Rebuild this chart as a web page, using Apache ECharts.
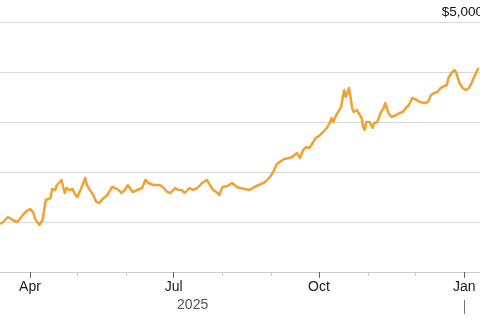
<!DOCTYPE html>
<html>
<head>
<meta charset="utf-8">
<script src="https://cdn.jsdelivr.net/npm/echarts@6/dist/echarts.min.js"></script>
<style>
html,body{margin:0;padding:0;background:#fff;}
#c{width:480px;height:320px;}
</style>
</head>
<body>
<div id="c"></div>
<script>
// Gold price (USD/oz)
var dates = ['2025-03-13','2025-03-15','2025-03-18','2025-03-21','2025-03-24','2025-03-26','2025-03-28','2025-03-30',
'2025-04-01','2025-04-03','2025-04-04','2025-04-05','2025-04-07','2025-04-09','2025-04-11','2025-04-12','2025-04-14','2025-04-15','2025-04-17','2025-04-18','2025-04-21','2025-04-22','2025-04-23','2025-04-24','2025-04-26','2025-04-28','2025-04-29',
'2025-05-01','2025-05-03','2025-05-04','2025-05-06','2025-05-07','2025-05-09','2025-05-11','2025-05-13','2025-05-14','2025-05-15','2025-05-17','2025-05-20','2025-05-23','2025-05-25','2025-05-27','2025-05-29','2025-05-31',
'2025-06-02','2025-06-03','2025-06-05','2025-06-08','2025-06-11','2025-06-13','2025-06-15','2025-06-18','2025-06-22','2025-06-24','2025-06-27','2025-06-29',
'2025-07-02','2025-07-04','2025-07-06','2025-07-08','2025-07-11','2025-07-13','2025-07-16','2025-07-17','2025-07-19','2025-07-22','2025-07-24','2025-07-26','2025-07-28','2025-07-30','2025-07-31',
'2025-08-01','2025-08-04','2025-08-05','2025-08-07','2025-08-10','2025-08-12','2025-08-15','2025-08-18','2025-08-19','2025-08-21','2025-08-24','2025-08-28','2025-08-31',
'2025-09-02','2025-09-04','2025-09-06','2025-09-09','2025-09-12','2025-09-14','2025-09-17','2025-09-19','2025-09-21','2025-09-23','2025-09-25','2025-09-27','2025-09-29',
'2025-10-01','2025-10-03','2025-10-06','2025-10-08','2025-10-09','2025-10-10','2025-10-12','2025-10-14','2025-10-15','2025-10-16','2025-10-17','2025-10-18','2025-10-19','2025-10-20','2025-10-21','2025-10-22','2025-10-23','2025-10-25','2025-10-28','2025-10-29','2025-10-30','2025-10-31',
'2025-11-02','2025-11-03','2025-11-04','2025-11-05','2025-11-07','2025-11-09','2025-11-11','2025-11-12','2025-11-13','2025-11-14','2025-11-16','2025-11-19','2025-11-21','2025-11-23','2025-11-25','2025-11-27','2025-11-29',
'2025-12-02','2025-12-04','2025-12-07','2025-12-09','2025-12-11','2025-12-13','2025-12-15','2025-12-17','2025-12-21','2025-12-22','2025-12-24','2025-12-26','2025-12-27','2025-12-29','2025-12-31',
'2026-01-02','2026-01-04','2026-01-06','2026-01-07','2026-01-08','2026-01-10'];
var prices = [2980,3000,3050,3020,3000,3040,3080,3110,
3130,3100,3040,3010,2970,3020,3220,3230,3240,3330,3320,3370,3420,3350,3290,3340,3320,3330,3290,
3250,3320,3360,3440,3370,3320,3270,3200,3220,3190,3230,3270,3350,3340,3320,3290,3320,
3370,3350,3300,3320,3340,3420,3390,3370,3370,3350,3300,3290,
3340,3320,3320,3290,3340,3320,3340,3350,3390,3420,3370,3320,3300,3270,3320,
3350,3360,3370,3390,3350,3340,3330,3320,3310,3350,3370,3400,3450,
3500,3570,3600,3630,3640,3650,3690,3640,3720,3750,3740,3790,3840,
3860,3890,3940,4000,4040,4000,4070,4120,4150,4240,4320,4250,4290,4340,4250,4140,4100,4120,4040,3950,3920,4000,
4000,3990,3940,3990,4000,4090,4140,4190,4140,4090,4050,4070,4090,4100,4140,4170,4240,
4220,4200,4190,4200,4270,4290,4300,4340,4370,4440,4490,4520,4490,4390,4340,
4320,4340,4400,4440,4420,4540];

var quarterTicks = ['2025-04-01','2025-07-01','2025-10-01','2026-01-01'];
var monthTicks = ['2025-05-01','2025-06-01','2025-08-01','2025-09-01','2025-11-01','2025-12-01'];
var yearLabelAt = ['2025-07-13'];
var yearBreak = ['2026-01-01'];
var monthNames = ['Jan','Feb','Mar','Apr','May','Jun','Jul','Aug','Sep','Oct','Nov','Dec'];

var xMin = '2025-03-13', xMax = '2026-01-11';
var FONT = '"Liberation Sans", Arial, Helvetica, sans-serif';

function ts(d){ return new Date(d + 'T00:00:00').getTime(); }

var chart = echarts.init(document.getElementById('c'), null, {renderer:'canvas'});
var seriesData = dates.map(function(d,i){ return [ts(d), prices[i]]; });

function baseX(extra){
  var o = { type: 'value', min: ts(xMin), max: ts(xMax), position: 'bottom', scale: true,
    axisLine: { show: false }, splitLine: { show: false } };
  for (var k in extra) o[k] = extra[k];
  return o;
}

chart.setOption({
  animation: false,
  backgroundColor: '#fff',
  grid: { left: 0, right: 0, top: 22, height: 250, containLabel: false, outerBoundsMode: 'none' },
  xAxis: [
    baseX({
      axisLine: { show: true, onZero: false, lineStyle: { color: '#cfcfcf', width: 1 } },
      axisTick: { show: true, customValues: quarterTicks.map(ts), length: 6, lineStyle: { color: '#666' } },
      axisLabel: { show: true, customValues: quarterTicks.map(ts), margin: 8, color: '#1a1a1a', fontSize: 14, fontFamily: FONT,
        formatter: function(v){ return monthNames[new Date(v).getMonth()]; } }
    }),
    baseX({
      axisTick: { show: true, customValues: monthTicks.map(ts), length: 4, lineStyle: { color: '#c8c8c8' } },
      axisLabel: { show: true, customValues: yearLabelAt.map(ts), margin: 26, color: '#555', fontSize: 14, fontFamily: FONT,
        formatter: function(v){ return String(new Date(v).getFullYear()); } }
    }),
    baseX({
      offset: 28,
      axisTick: { show: true, customValues: yearBreak.map(ts), length: 14, lineStyle: { color: '#777' } },
      axisLabel: { show: false }
    })
  ],
  yAxis: {
    type: 'value', position: 'right', min: 2500, max: 5000, interval: 500,
    axisLine: { show: false }, axisTick: { show: false },
    splitLine: { show: true, lineStyle: { color: '#d9d9d9', width: 1 } },
    axisLabel: { show: true, inside: true, margin: -3, verticalAlign: 'bottom', padding: [0,0,3,0],
      color: '#111', fontSize: 13.5, fontFamily: FONT,
      formatter: function(v){ return v === 5000 ? '$' + v.toLocaleString('en-US') : ''; } }
  },
  series: [{
    type: 'line', xAxisIndex: 0, data: seriesData, showSymbol: false, symbol: 'none',
    lineStyle: { color: '#F2A134', width: 2.5, join: 'round' }, smooth: false
  }]
});
</script>
</body>
</html>
